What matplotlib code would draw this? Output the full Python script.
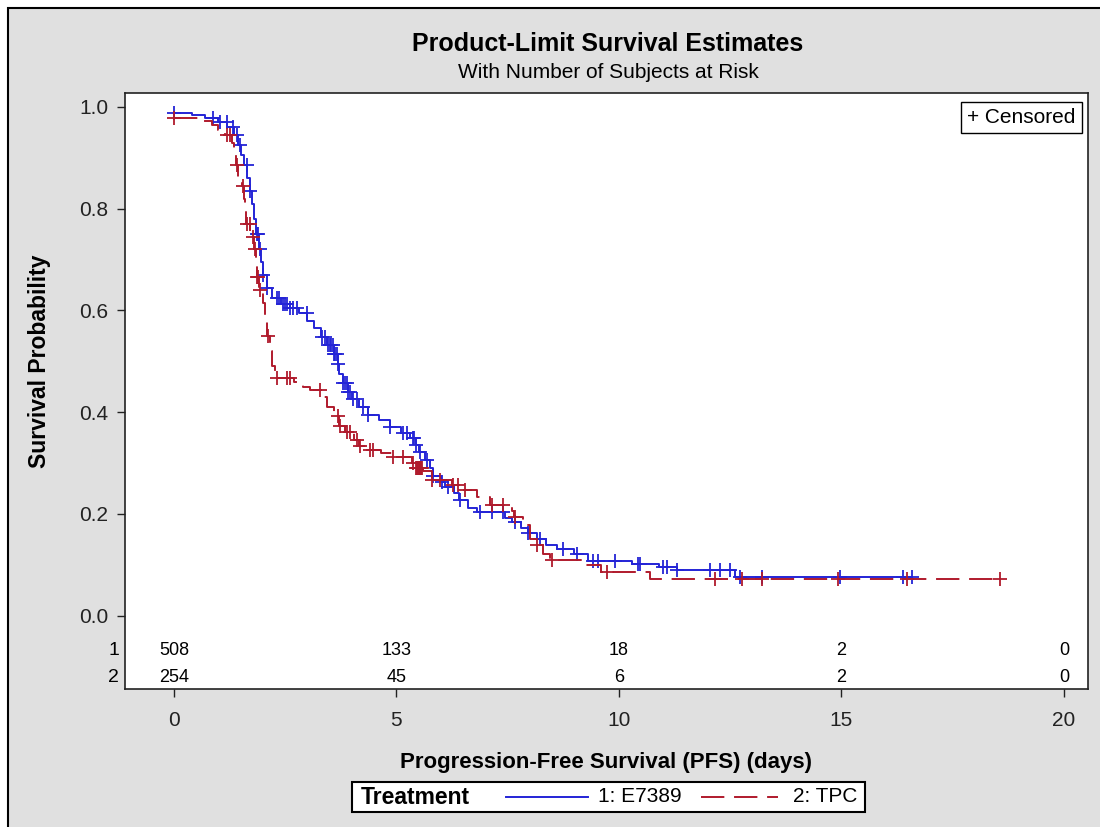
import numpy as np
import matplotlib.pyplot as plt
from matplotlib.patches import Rectangle
from matplotlib.lines import Line2D
from matplotlib.transforms import blended_transform_factory

plt.rcParams['font.family'] = ['Liberation Sans', 'DejaVu Sans']

# Kaplan-Meier step functions (time in days, survival after each drop)
e7389_times = [0.0, 0.4, 0.7, 1.0, 1.2, 1.35, 1.45, 1.5, 1.58, 1.65, 1.7, 1.75, 1.8, 1.85,
               1.9, 1.95, 2.0, 2.08, 2.2, 2.4, 2.6, 2.8, 3.0, 3.15, 3.3, 3.45, 3.6, 3.68,
               3.72, 3.8, 3.9, 4.0, 4.15, 4.35, 4.6, 4.85, 5.1, 5.3, 5.45, 5.5, 5.65, 5.75,
               5.82, 6.0, 6.1, 6.3, 6.4, 6.6, 6.8, 7.45, 7.6, 7.8, 7.95, 8.15, 8.35, 8.6,
               9.0, 9.3, 10.3, 10.9, 11.3, 12.6]
e7389_surv = [0.988, 0.985, 0.978, 0.970, 0.960, 0.945, 0.925, 0.905, 0.885, 0.860, 0.835,
              0.810, 0.780, 0.750, 0.720, 0.695, 0.670, 0.645, 0.625, 0.612, 0.605, 0.595,
              0.580, 0.565, 0.548, 0.532, 0.515, 0.495, 0.475, 0.458, 0.440, 0.425, 0.410,
              0.395, 0.385, 0.370, 0.358, 0.350, 0.335, 0.322, 0.305, 0.290, 0.275, 0.262,
              0.253, 0.240, 0.228, 0.212, 0.203, 0.192, 0.184, 0.172, 0.162, 0.150, 0.138,
              0.130, 0.120, 0.108, 0.102, 0.095, 0.090, 0.075]
e7389_censored = [0.0, 0.88, 1.03, 1.19, 1.33, 1.42, 1.48, 1.64, 1.71, 1.87, 1.89, 1.93, 2.0,
                  2.09, 2.31, 2.35, 2.45, 2.5, 2.55, 2.61, 2.68, 2.76, 2.99, 3.33, 3.4, 3.46,
                  3.5, 3.52, 3.57, 3.6, 3.62, 3.66, 3.69, 3.8, 3.85, 3.89, 3.92, 3.95, 4.02,
                  4.11, 4.25, 4.36, 4.85, 5.15, 5.24, 5.37, 5.4, 5.45, 5.53, 5.69, 5.82, 6.02,
                  6.16, 6.43, 6.88, 7.15, 7.39, 7.66, 7.96, 8.22, 8.74, 9.06, 9.42, 9.53, 9.91,
                  10.43, 10.47, 11.0, 11.08, 11.3, 12.04, 12.27, 12.49, 12.72, 13.21, 14.97,
                  16.38, 16.58]

tpc_times = [0.0, 0.6, 0.85, 1.0, 1.15, 1.3, 1.35, 1.4, 1.45, 1.52, 1.57, 1.6, 1.63, 1.72,
             1.8, 1.84, 1.86, 1.92, 2.0, 2.05, 2.1, 2.15, 2.2, 2.27, 2.7, 2.9, 3.05, 3.35,
             3.45, 3.6, 3.72, 3.85, 4.05, 4.15, 4.35, 4.65, 4.9, 5.35, 5.45, 5.6, 5.8, 6.25,
             6.45, 6.8, 7.1, 7.6, 7.64, 7.85, 8.0, 8.15, 8.3, 8.45, 9.2, 9.6, 10.7]
tpc_surv = [0.978, 0.972, 0.965, 0.955, 0.945, 0.930, 0.910, 0.885, 0.860, 0.845, 0.820,
            0.795, 0.770, 0.745, 0.720, 0.690, 0.665, 0.640, 0.615, 0.585, 0.550, 0.520,
            0.490, 0.468, 0.460, 0.450, 0.444, 0.430, 0.410, 0.392, 0.372, 0.360, 0.345,
            0.333, 0.326, 0.320, 0.312, 0.300, 0.290, 0.285, 0.267, 0.257, 0.247, 0.233,
            0.218, 0.205, 0.194, 0.178, 0.150, 0.139, 0.120, 0.109, 0.100, 0.086, 0.071]
tpc_censored = [0.0, 1.19, 1.26, 1.42, 1.55, 1.64, 1.71, 1.78, 1.82, 1.87, 1.89, 1.93, 2.11,
                2.31, 2.54, 2.61, 3.28, 3.69, 3.73, 3.89, 3.96, 4.11, 4.18, 4.4, 4.47, 4.92,
                5.15, 5.37, 5.45, 5.47, 5.49, 5.5, 5.52, 5.54, 5.56, 5.58, 5.8, 5.98, 6.27,
                6.38, 6.54, 7.15, 7.39, 7.66, 8.16, 8.49, 9.73, 12.16, 12.76, 13.21, 14.92,
                16.47, 18.56]

risk_ticks = [0, 5, 10, 15, 20]
risk_e7389 = [508, 133, 18, 2, 0]
risk_tpc = [254, 45, 6, 2, 0]

BLUE = '#2424D6'
RED = '#B01A2C'


def surv_at(t, times, surv):
    idx = np.searchsorted(times, t, side='right') - 1
    return np.asarray(surv)[idx]


fig = plt.figure(figsize=(11, 8.27), dpi=100)
fig.patch.set_facecolor('white')
fig.add_artist(Rectangle((8 / 1100, -0.05), 1.1, 0.05 + 819 / 827, transform=fig.transFigure,
                         facecolor='#E0E0E0', edgecolor='black', linewidth=1.5, zorder=-10))

ax = fig.add_axes([125 / 1100, 1 - 689 / 827, 963 / 1100, 596 / 827])
ax.set_facecolor('white')

for times, surv, cens, color, dash in [
        (e7389_times, e7389_surv, e7389_censored, BLUE, None),
        (tpc_times, tpc_surv, tpc_censored, RED, (12, 5))]:
    end = max(cens)
    xs = list(times) + [end]
    ys = list(surv) + [surv[-1]]
    line, = ax.step(xs, ys, where='post', color=color, linewidth=1.4)
    if dash:
        line.set_dashes(dash)
    ax.plot(cens, surv_at(np.array(cens), times, surv), linestyle='none', marker='+',
            markersize=10, markeredgewidth=1.3, color=color)

ax.set_xlim(-1.1, 20.54)
ax.set_ylim(-0.1445, 1.0275)
ax.set_xticks(risk_ticks)
ax.set_yticks([0.0, 0.2, 0.4, 0.6, 0.8, 1.0])
ax.set_yticklabels(['0.0', '0.2', '0.4', '0.6', '0.8', '1.0'])
ax.tick_params(direction='out', length=6, width=1, labelsize=15, colors='#222222')
ax.tick_params(axis='x', pad=10)
ax.tick_params(axis='y', pad=6)
for sp in ax.spines.values():
    sp.set_linewidth(1.2)
    sp.set_color('#222222')

ax.set_xlabel('Progression-Free Survival (PFS) (days)', fontsize=16, fontweight='bold')
ax.xaxis.set_label_coords(0.5, -0.105)
ax.set_ylabel('Survival Probability', fontsize=16.5, fontweight='bold')
ax.yaxis.set_label_coords(-0.077, 0.55)

# number at risk rows inside the plot area
trans = blended_transform_factory(ax.transData, ax.transAxes)
for row_y, counts in [(0.064, risk_e7389), (0.020, risk_tpc)]:
    for t, n in zip(risk_ticks, counts):
        ax.text(t, row_y, str(n), transform=trans, ha='center', va='center', fontsize=13)
lab_trans = blended_transform_factory(ax.transAxes, ax.transAxes)
ax.text(-0.012, 0.064, '1', transform=lab_trans, ha='center', va='center', fontsize=14)
ax.text(-0.012, 0.020, '2', transform=lab_trans, ha='center', va='center', fontsize=14)

ax.text(0.987, 0.975, '+ Censored', transform=ax.transAxes, ha='right', va='top', fontsize=15,
        bbox=dict(boxstyle='square,pad=0.3', facecolor='white', edgecolor='black', linewidth=1))

fig.text(608 / 1100, 1 - 44 / 827, 'Product-Limit Survival Estimates', ha='center',
         va='center', fontsize=18, fontweight='bold')
fig.text(608 / 1100, 1 - 72 / 827, 'With Number of Subjects at Risk', ha='center',
         va='center', fontsize=15)

# treatment legend along the bottom
def px(x, y):
    return x / 1100, 1 - y / 827

x0, y0 = px(352, 812)
fig.add_artist(Rectangle((x0, y0), 513 / 1100, 30 / 827, transform=fig.transFigure,
                         facecolor='white', edgecolor='black', linewidth=1.5))
ly = 797
fig.text(*px(361, ly), 'Treatment', ha='left', va='center', fontsize=16.5, fontweight='bold')
fig.add_artist(Line2D([506 / 1100, 588 / 1100], [1 - ly / 827] * 2, transform=fig.transFigure,
                      color=BLUE, linewidth=1.4))
fig.text(*px(598, ly), '1: E7389', ha='left', va='center', fontsize=15)
red_leg = Line2D([701 / 1100, 778 / 1100], [1 - ly / 827] * 2, transform=fig.transFigure,
                 color=RED, linewidth=1.4)
red_leg.set_dashes((12, 5))
fig.add_artist(red_leg)
fig.text(*px(793, ly), '2: TPC', ha='left', va='center', fontsize=15)

fig.savefig('out.png', dpi=100)
